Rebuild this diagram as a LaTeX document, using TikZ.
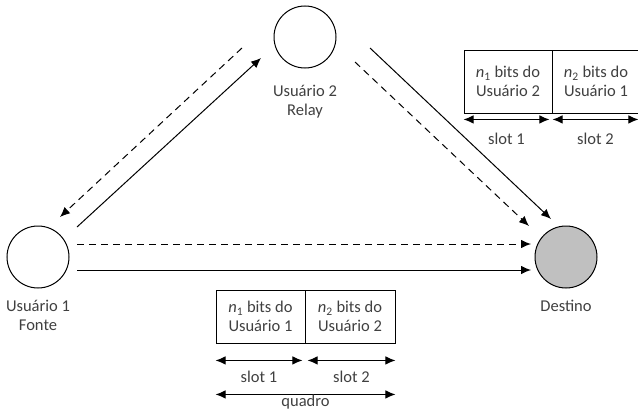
\documentclass[tikz,border=0pt]{standalone}
\usepackage{fontspec}
\setmainfont{Carlito}
\usepackage{xcolor}
\usetikzlibrary{positioning, arrows.meta}
\definecolor{txtgray}{HTML}{404040}
\definecolor{destgray}{HTML}{C0C0C0}

\begin{document}
\begin{tikzpicture}[x=1pt, y=-1pt, line width=1pt,
    font=\fontsize{16.5}{19}\selectfont,
    >={Latex[length=10pt, width=8.5pt]},
    user/.style={draw, circle, minimum size=62pt, inner sep=0pt},
    lbl/.style={text=txtgray, align=center},
    cell/.style={draw, line width=0.9pt, text=txtgray, align=center, inner sep=0pt},
    dsh/.style={dash pattern=on 7pt off 5pt}]
    \clip (0,0) rectangle (638,412);
    % usuarios
    \node [user] (U1) at (38, 257) {};
    \node [user] (U2) at (305, 37) {};
    \node [user, fill=destgray] (D) at (566, 257) {};
    \node [lbl] (L1) at (38, 315) {Usuário 1\\Fonte};
    \node [lbl] (L2) at (305, 102) {Usuário 2\\Relay};
    \node [lbl] (LD) at (566, 306) {Destino};
    % pontas das setas
    \coordinate (a1) at (77, 227); \coordinate (b1) at (261, 58);
    \coordinate (a2) at (242, 48); \coordinate (b2) at (60, 217);
    \coordinate (a3) at (370, 48); \coordinate (b3) at (551, 219);
    \coordinate (a4) at (355, 62); \coordinate (b4) at (529, 226);
    \coordinate (a5) at (77, 244); \coordinate (b5) at (531, 244);
    \coordinate (a6) at (77, 270); \coordinate (b6) at (531, 270);
    \draw[->] (a1) -- (b1);
    \draw[->, dsh] (a2) -- (b2);
    \draw[->] (a3) -- (b3);
    \draw[->, dsh] (a4) -- (b4);
    \draw[->, dsh] (a5) -- (b5);
    \draw[->] (a6) -- (b6);
    % quadro de baixo
    \node [cell, minimum width=89pt, minimum height=53pt] (C1) at (260.5, 316.5) {\textit{n}\textsubscript{1} bits do\\Usuário 1};
    \node [cell, minimum width=90pt, minimum height=53pt] (C2) at (350, 316.5) {\textit{n}\textsubscript{2} bits do\\Usuário 2};
    \draw[<->] ([yshift=-17pt]C1.south west) -- ([xshift=-3pt, yshift=-17pt]C1.south east) node[midway, yshift=-16pt, lbl] (S1) {slot 1};
    \draw[<->] ([xshift=3pt, yshift=-17pt]C2.south west) -- ([yshift=-17pt]C2.south east) node[midway, yshift=-16pt, lbl] (S2) {slot 2};
    \draw[<->] ([yshift=-51pt]C1.south west) -- ([yshift=-51pt]C2.south east) node[midway, yshift=-8pt, lbl] (Q) {quadro};
    % quadro de cima
    \node [cell, minimum width=88pt, minimum height=63pt] (T1) at (508, 81.5) {\textit{n}\textsubscript{1} bits do\\Usuário 2};
    \node [cell, minimum width=88pt, minimum height=63pt] (T2) at (596, 81.5) {\textit{n}\textsubscript{2} bits do\\Usuário 1};
    \draw[<->] ([yshift=-6pt]T1.south west) -- ([xshift=-3pt, yshift=-6pt]T1.south east) node[midway, yshift=-19pt, lbl] (S3) {slot 1};
    \draw[<->] ([xshift=1pt, yshift=-6pt]T2.south west) -- ([xshift=-2pt, yshift=-6pt]T2.south east) node[midway, yshift=-19pt, lbl] (S4) {slot 2};
\end{tikzpicture}
\end{document}
